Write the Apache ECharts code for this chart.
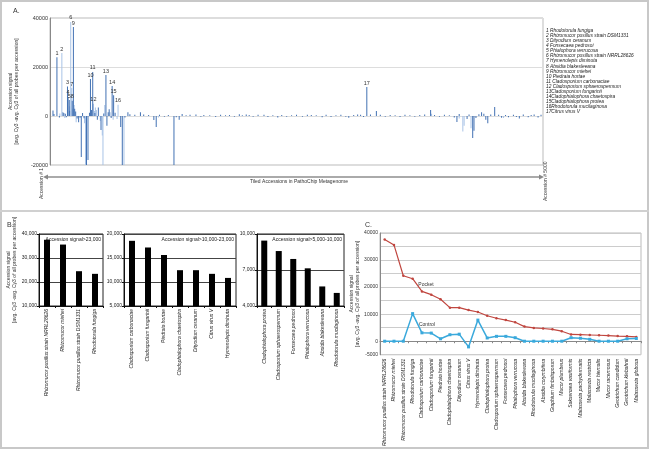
<!DOCTYPE html>
<html><head><meta charset="utf-8">
<script src="https://cdn.jsdelivr.net/npm/echarts/dist/echarts.min.js"></script>
<style>html,body{margin:0;padding:0;background:#fff}#c{width:649px;height:449px}</style>
</head><body><div id="c"></div><script>
// ---------- Panel A: tiled accessions ----------
const darkPeakLabels = ['1','3','4','5','8','9','10','11','13','14','15','17'];
const darkPeakPos = [70,177,183,195,225,237,410,433,567,630,645,3213];
const darkPeakVal = [24000,12000,7800,6500,6200,36300,15100,18000,16700,12200,8500,11800];
const lightPeakLabels = ['2','6','7','12','16'];
const lightPeakPos = [120,210,220,440,690];
const lightPeakVal = [25700,38400,11400,5000,4600];
const darkSpikePos = [30,40,95,130,140,155,165,200,250,260,275,290,305,317,330,345,370,385,400,420,455,480,490,517,545,577,590,600,620,660,717,733,760,790,810,860,917,950,1000,1053,1077,1110,1160,1200,1257,1280,1310,1340,1380,1420,1480,1530,1560,1620,1680,1730,1780,1820,1870,1920,1950,1990,2020,2060,2110,2170,2210,2260,2310,2350,2400,2450,2500,2560,2610,2650,2700,2760,2800,2850,2900,2950,3000,3030,3080,3120,3150,3180,3250,3310,3350,3400,3450,3500,3550,3600,3650,3700,3750,3800,3860,3900,3950,4000,4050,4100,4127,4150,4230,4250,4287,4300,4320,4350,4377,4400,4420,4440,4470,4510,4550,4580,4620,4650,4700,4730,4760,4800,4850,4880,4910,4950,4980];
const darkSpikeVal = [2200,800,-600,1500,1200,900,-500,2000,3000,1800,-1000,-2500,-700,-16700,1200,-900,-20000,-18000,1300,2500,1200,-1500,3500,-5700,1000,-4000,1500,2800,-800,1300,-4500,-20000,-600,1500,700,500,1500,600,400,-1600,-4500,500,-300,400,-20000,-500,-1500,800,300,500,600,-300,400,300,-400,500,300,400,-300,700,300,600,400,-300,500,500,-400,300,-600,400,-300,300,500,-300,500,400,300,-500,500,-400,300,500,-300,-700,400,600,500,-400,600,2000,500,-300,400,300,-400,500,300,-300,400,600,2500,400,-300,500,300,-600,-2400,800,-1200,600,-9000,-6000,-800,700,1500,900,-1500,-3000,600,3700,500,-700,400,-500,500,-400,-1000,600,-500,400,600,-600,500];
const lightSpikePos = [100,150,200,230,245,265,350,360,450,460,470,510,530,537,555,610,640,680,750,1100,3870,4150,4187,4200,4270,4600];
const lightSpikeVal = [1000,-800,4000,3000,4500,-2500,-3000,-20000,2000,3500,2500,-2000,-8000,-20000,4500,1500,-1500,-1200,-20000,-600,900,-1000,-6300,-4000,-5000,-800];
const legendLines = ['1 Rhodotorula fungiga','2 Rhizomucor pusillus strain DSM1331','3 Dityodium ceranum','4 Fonsecaea pedrosoi','5 Phialophora verrucosa','6 Rhizomucor pusillus strain NRRL28626','7 Hymenolepis diminuta','8 Absidia blakesleeana','9 Rhizomucor miehei','10 Piedraia hortae','11 Cladosporium carbonaciae','12 Cladosporium sphaerospermum','13Cladosporium fungarinii','14Cladophialophora chaetospira','15Cladophialophora protea','16Rhodotorula mucilaginosa','17Citrus virus V'];

// ---------- Panel B ----------
const b1Cats = ['Rhizomucor pusillus strain NRRL28626','Rhizomucor miehei','Rhizomucor pusillus strain DSM1331','Rhodotorula fungiga'];
const b1Vals = [37600,35600,24500,23400];
const b2Cats = ['Cladosporium carbonaciae','Cladosporium fungarinii','Piedraia hortae','Cladophialophora chaetospira','Dityodium ceranum','Citrus virus V','Hymenolepis diminuta'];
const b2Vals = [18580,17190,15630,12460,12460,11700,10850];
const b3Cats = ['Cladophialophora protea','Cladosporium sphaerospermum','Fonsecaea pedrosoi','Phialophora verrucosa','Absidia blakesleeana','Rhodotorula mucilaginosa'];
const b3Vals = [9450,8580,7920,7140,5630,5090];

// ---------- Panel C ----------
const cCats = ['Rhizomucor pusillus strain NRRL28626','Rhizomucor miehei','Rhizomucor pusillus strain DSM1331','Rhodotorula fungiga','Cladosporium carbonaciae','Cladosporium fungarinii','Piedraia hortae','Cladophialophora chaetospira','Dityodium ceranum','Citrus virus V','Hymenolepis diminuta','Cladophialophora protea','Cladosporium sphaerospermum','Fonsecaea pedrosoi','Phialophora verrucosa','Absidia blakesleeana','Rhodotorula mucilaginosa','Absidia corymbifera','Graphium fimbriisporum','Mucor plumbeus','Saksenaea vasiformis','Malassezia pachydermatis','Malassezia restricta','Mucor hiemalis','Mucor racemosus','Geotrichum candidum','Geotrichum klebahnii','Malassezia globosa'];
const pocketVals = [37600,35600,24200,23100,18400,17200,15500,12400,12400,11500,10800,9400,8500,7800,7000,5400,4900,4700,4400,3700,2500,2400,2300,2200,2100,1900,1800,1600];
const controlVals = [0,0,0,10200,3100,3000,900,2400,2600,-2100,7800,1200,1800,1800,1300,0,0,0,0,0,1300,1100,700,0,0,0,900,1000];

const yTitle = 'Accession signal\n[avg. Cy3 -avg. Cy3 of all probes per accession]';
const FF = 'Liberation Sans, Arial, sans-serif';
const zip = (a,b) => a.map((x,i)=>[x,b[i]]);
const peakData = (p,v,l) => p.map((x,i)=>({value:[x,v[i]], name:l[i]}));
const comma = v => v.toLocaleString('en-US');

const chart = echarts.init(document.getElementById('c'), null, {renderer:'canvas'});

function bAxisX(idx, cats){
  return {type:'category', gridIndex:idx, data:cats,
    axisLine:{lineStyle:{color:'#111', width:1}},
    axisTick:{show:true, length:2, lineStyle:{color:'#111'}},
    axisLabel:{rotate:90, interval:0, fontSize:5, fontStyle:'italic', color:'#222', margin:3, fontFamily:FF}};
}
function bAxisY(idx, min, max, interval, extra){
  return Object.assign({type:'value', gridIndex:idx, min, max, interval,
    axisLine:{show:true, lineStyle:{color:'#111'}},
    axisTick:{show:true, length:2, lineStyle:{color:'#111'}},
    axisLabel:{fontSize:5, color:'#222', margin:2, formatter:comma, fontFamily:FF},
    splitLine:{show:true, lineStyle:{color:'#444', width:1}}}, extra||{});
}
function bBar(idx, vals){
  return {type:'bar', xAxisIndex:idx, yAxisIndex:idx, data:vals, barWidth:6, itemStyle:{color:'#000'}, silent:true};
}
function aBars(data, color, labelled){
  return {type:'bar', xAxisIndex:0, yAxisIndex:0, data, barWidth:1, barGap:'-100%', silent:true,
    itemStyle:{color}, label: labelled ? {show:true, position:'top', distance:1, fontSize:5.5, color:'#333', fontFamily:FF, formatter:p=>p.name} : {show:false}};
}

const option = {
  animation:false,
  textStyle:{fontFamily:FF},
  grid:[
    {left:44, top:18, width:499, height:147, show:true, borderColor:'#bbb', borderWidth:1},
    {left:39, top:234, width:64, height:72, show:true, borderColor:'#222', borderWidth:1},
    {left:124, top:234, width:112, height:72, show:true, borderColor:'#222', borderWidth:1},
    {left:257, top:234, width:87, height:72, show:true, borderColor:'#222', borderWidth:1},
    {left:380, top:233, width:261, height:134, show:true, borderColor:'#bbb', borderWidth:1}
  ],
  xAxis:[
    {type:'value', gridIndex:0, min:0, max:5000, show:false},
    bAxisX(1, b1Cats), bAxisX(2, b2Cats), bAxisX(3, b3Cats),
    {type:'category', gridIndex:4, data:cCats,
      axisLine:{onZero:true, lineStyle:{color:'#888'}},
      axisTick:{show:true, length:2, lineStyle:{color:'#888'}},
      axisLabel:{rotate:90, interval:0, fontSize:5, fontStyle:'italic', color:'#222', margin:4, fontFamily:FF}}
  ],
  yAxis:[
    {type:'value', gridIndex:0, min:-20000, max:40000, interval:20000,
      axisLine:{show:true, lineStyle:{color:'#888'}}, axisTick:{show:false},
      axisLabel:{fontSize:5.5, color:'#333', margin:2, fontFamily:FF, formatter:v => String(v)},
      splitLine:{show:true, lineStyle:{color:'#ddd'}},
      name:yTitle, nameLocation:'middle', nameGap:16, nameRotate:90,
      nameTextStyle:{fontSize:5, color:'#333', lineHeight:6, fontFamily:FF}},
    bAxisY(1, 10000, 40000, 10000, {name:yTitle, nameLocation:'middle', nameGap:19, nameRotate:90,
      nameTextStyle:{fontSize:5, color:'#333', lineHeight:6, fontFamily:FF}}),
    bAxisY(2, 5000, 20000, 5000),
    bAxisY(3, 4000, 10000, 3000),
    {type:'value', gridIndex:4, min:-5000, max:40000, interval:5000,
      axisLine:{show:true, lineStyle:{color:'#888'}}, axisTick:{show:false},
      axisLabel:{fontSize:5, color:'#333', margin:2, fontFamily:FF,
        formatter:v => (v % 10000 === 0 || v === -5000) ? String(v) : ''},
      splitLine:{show:true, lineStyle:{color:'#ccc'}},
      name:yTitle, nameLocation:'middle', nameGap:13, nameRotate:90,
      nameTextStyle:{fontSize:5, color:'#333', lineHeight:6, fontFamily:FF}}
  ],
  series:[
    aBars(zip(lightSpikePos, lightSpikeVal), '#a9c3e6', false),
    aBars(zip(darkSpikePos, darkSpikeVal), '#4271b3', false),
    aBars(peakData(lightPeakPos, lightPeakVal, lightPeakLabels), '#a9c3e6', true),
    aBars(peakData(darkPeakPos, darkPeakVal, darkPeakLabels), '#4271b3', true),
    bBar(1, b1Vals), bBar(2, b2Vals), bBar(3, b3Vals),
    {type:'line', xAxisIndex:4, yAxisIndex:4, data:pocketVals, silent:true,
      lineStyle:{color:'#c0463f', width:1.2}, itemStyle:{color:'#c0463f'}, symbol:'circle', symbolSize:2.5,
      markPoint:{symbol:'circle', symbolSize:1, itemStyle:{color:'rgba(0,0,0,0)'}, silent:true,
        label:{show:true, formatter:'Pocket', fontSize:5, color:'#333', offset:[4,0]},
        data:[{coord:[4, 20800]}]}},
    {type:'line', xAxisIndex:4, yAxisIndex:4, data:controlVals, silent:true,
      lineStyle:{color:'#3aa9dc', width:1.5}, itemStyle:{color:'#3aa9dc'}, symbol:'rect', symbolSize:3,
      markPoint:{symbol:'circle', symbolSize:1, itemStyle:{color:'rgba(0,0,0,0)'}, silent:true,
        label:{show:true, formatter:'Control', fontSize:5, color:'#333', offset:[5,0]},
        data:[{coord:[4, 6000]}]}}
  ],
  graphic:[
    {type:'rect', shape:{x:1, y:1, width:647, height:447}, style:{fill:'none', stroke:'#c8c8c8', lineWidth:2}, silent:true},
    {type:'line', shape:{x1:0, y1:211, x2:649, y2:211}, style:{stroke:'#d0d0d0', lineWidth:2}, silent:true},
    {type:'text', left:13, top:8, style:{text:'A.', fontSize:7, fill:'#333', fontFamily:FF}},
    {type:'text', left:7, top:222, style:{text:'B.', fontSize:7, fill:'#333', fontFamily:FF}},
    {type:'text', left:365, top:222, style:{text:'C.', fontSize:7, fill:'#333', fontFamily:FF}},
    {type:'text', left:546, top:28, style:{text:legendLines.join('\n'), fontSize:4.8, lineHeight:5.1, fontStyle:'italic', fill:'#222', fontFamily:FF}},
    {type:'line', shape:{x1:46, y1:177, x2:541, y2:177}, style:{stroke:'#aaa', lineWidth:2}, silent:true},
    {type:'polygon', shape:{points:[[43,177],[48,174.5],[48,179.5]]}, style:{fill:'#888'}, silent:true},
    {type:'polygon', shape:{points:[[544,177],[539,174.5],[539,179.5]]}, style:{fill:'#888'}, silent:true},
    {type:'text', left:250, top:179, style:{text:'Tiled Accessions in PathoChip Metagenome', fontSize:5, fill:'#333', fontFamily:FF}},
    {type:'text', x:42, y:199, rotation:Math.PI/2, style:{text:'Accession # 1', fontSize:5, fill:'#333', fontFamily:FF, textAlign:'left', textVerticalAlign:'middle'}},
    {type:'text', x:546, y:201, rotation:Math.PI/2, style:{text:'Accession # 5000', fontSize:5, fill:'#333', fontFamily:FF, textAlign:'left', textVerticalAlign:'middle'}},
    {type:'text', x:101, y:237, style:{text:'Accession signal>23,000', fontSize:5, fill:'#222', fontFamily:FF, textAlign:'right', textVerticalAlign:'top'}},
    {type:'text', x:234, y:237, style:{text:'Accession signal>10,000-23,000', fontSize:5, fill:'#222', fontFamily:FF, textAlign:'right', textVerticalAlign:'top'}},
    {type:'text', x:342, y:237, style:{text:'Accession signal>5,000-10,000', fontSize:5, fill:'#222', fontFamily:FF, textAlign:'right', textVerticalAlign:'top'}}
  ]
};
chart.setOption(option);
</script></body></html>
